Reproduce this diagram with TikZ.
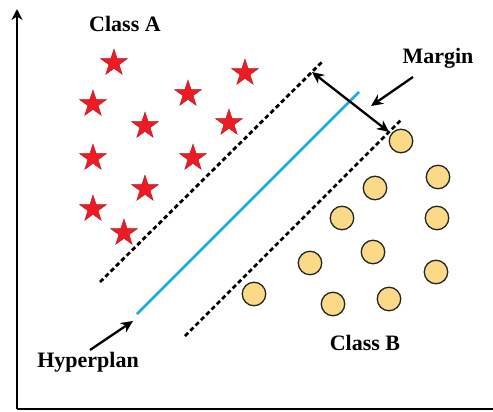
\documentclass[tikz,border=0pt]{standalone}
\usepackage{fontspec}
\setmainfont{Liberation Serif}
\usetikzlibrary{shapes.geometric,arrows.meta}
\definecolor{starred}{RGB}{237,28,36}
\definecolor{dotfill}{RGB}{250,217,135}
\definecolor{hyperblue}{RGB}{30,170,225}
\begin{document}
\begin{tikzpicture}[x=1pt,y=-1pt,
  starpt/.style={star,star points=5,star point ratio=2.6,minimum size=28pt,inner sep=0pt,fill=starred,draw=starred!75!black,line width=0.4pt},
  dotpt/.style={circle,minimum size=23.5pt,inner sep=0pt,fill=dotfill,draw=black!85,line width=1.3pt},
  lbl/.style={font=\fontsize{22}{26}\selectfont\bfseries},
  sepline/.style={line width=2.8pt,dash pattern=on 4.5pt off 3pt},
  ptr/.style={line width=2.3pt,-{Stealth[length=12pt,width=11pt]}},
  axis/.style={line width=2.8pt,-{Stealth[length=11pt,width=11pt]}}]
\useasboundingbox (0,0) rectangle (493,412);
% axes
\coordinate (origin) at (17,409);
\coordinate (ytop) at (17,9);
\coordinate (xend) at (504,409);
\draw[axis] (origin) -- (ytop);
\draw[axis] (origin) -- (xend);
% class A stars
\foreach \n/\x/\y in {s1/114/62,s2/245/72,s3/188/93,s4/93/103,s5/145/125,s6/229/122,s7/93/157,s8/193/157,s9/145/188,s10/93/208,s11/124/232}
  \node[starpt] (\n) at (\x,\y+1) {};
% class B circles
\foreach \n/\x/\y in {c1/401/141,c2/438/177,c3/375/188,c4/342/218,c5/437/218,c6/373/252,c7/310/263,c8/436/272,c9/254/294,c10/333/304,c11/389/299}
  \node[dotpt] (\n) at (\x,\y) {};
% separating lines
\coordinate (ua) at (100,282);
\coordinate (ub) at (322,62);
\coordinate (ha) at (137,314);
\coordinate (hb) at (359,92);
\coordinate (la) at (185,336);
\coordinate (lb) at (401,120);
\draw[sepline] (ua) -- (ub);
\draw[sepline] (la) -- (lb);
\draw[hyperblue,line width=2.5pt] (ha) -- (hb);
% labels
\node[lbl] (classA) at (125,24) {Class A};
\node[lbl] (margin) at (438,58) {Margin};
\node[lbl] (classB) at (365,343) {Class B};
\node[lbl] (hyper) at (88,362) {Hyperplan};
% margin arrows
\coordinate (m1) at (312,72);
\coordinate (m2) at (389,132);
\draw[line width=2.3pt,{Stealth[length=12pt,width=11pt]}-{Stealth[length=12pt,width=11pt]}] (m1) -- (m2);
\coordinate (mt) at (413,77);
\coordinate (mh) at (371,106);
\draw[ptr] (mt) -- (mh);
\coordinate (ht) at (90,350);
\coordinate (hh) at (133,321);
\draw[ptr] (ht) -- (hh);
\end{tikzpicture}
\end{document}
